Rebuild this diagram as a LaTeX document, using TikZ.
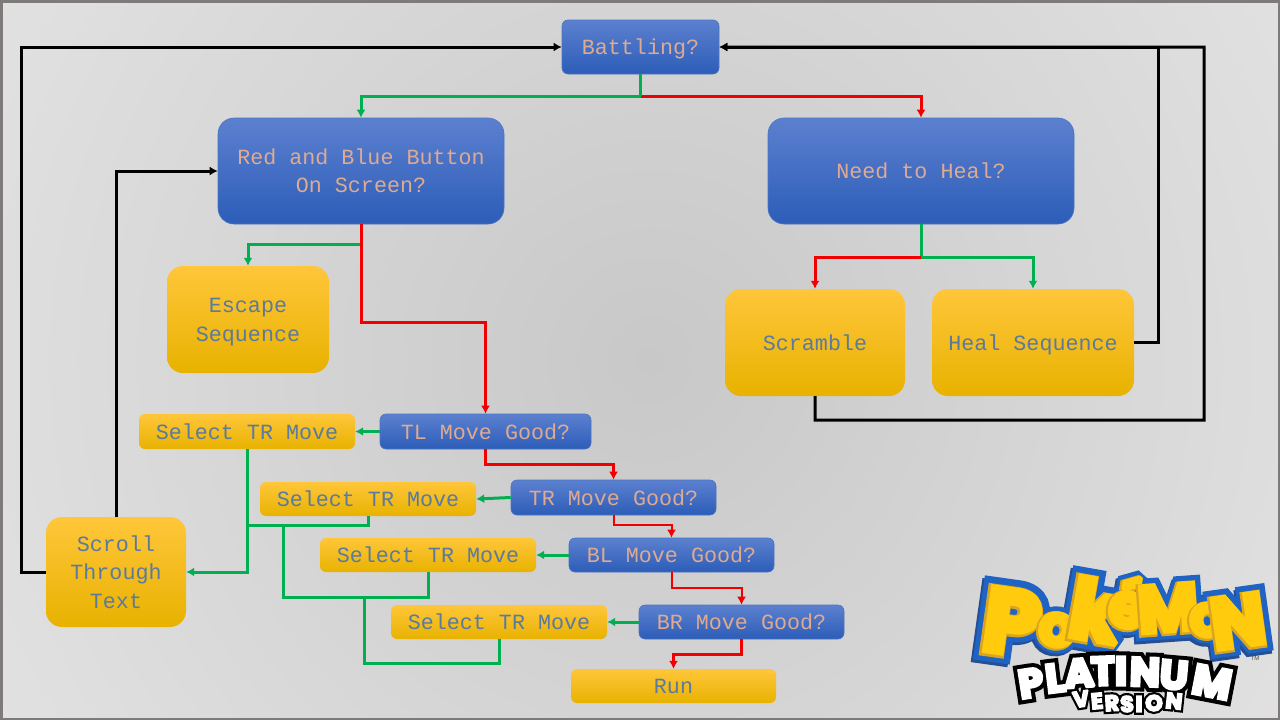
\documentclass[tikz,border=0pt]{standalone}
\usepackage{fontspec}
\setmainfont{Liberation Mono}
\newfontfamily\logoOut[FakeBold=24]{Poppins Bold}
\newfontfamily\logoMid[FakeBold=11]{Poppins Bold}
\newfontfamily\logoIn[FakeBold=7]{Poppins Bold}
\newfontfamily\platOut[FakeBold=28]{Poppins Bold}
\newfontfamily\platIn[FakeBold=8]{Poppins Bold}
\newfontfamily\tmfont{Liberation Sans}
\usetikzlibrary{arrows.meta}
\definecolor{bluetop}{HTML}{5C80CF}
\definecolor{bluebot}{HTML}{2C5DB8}
\definecolor{blueln}{HTML}{4A74C4}
\definecolor{yeltop}{HTML}{FFC63A}
\definecolor{yelmid}{HTML}{FFC000}
\definecolor{yelbot}{HTML}{E8B200}
\definecolor{saltxt}{HTML}{DEAA90}
\definecolor{slatetxt}{HTML}{5A7A9E}
\definecolor{gogreen}{HTML}{00B050}
\definecolor{nored}{HTML}{F00000}
\definecolor{pkblue}{HTML}{1F63C4}
\definecolor{pkdark}{HTML}{234F96}
\definecolor{pkyel}{HTML}{FFCB0C}
\definecolor{pkgold}{HTML}{D9A520}
\definecolor{frame}{HTML}{7F7A7A}
\definecolor{bga}{HTML}{C8C8C8}
\definecolor{bgb}{HTML}{E0E0E0}
\definecolor{bgc}{HTML}{EAEAEA}
\definecolor{bgd}{HTML}{F2F2F2}
\pgfdeclareradialshading{bgshade}{\pgfpoint{0bp}{0bp}}{%
  color(0bp)=(bga); color(22bp)=(bgb); color(40bp)=(bgc); color(50bp)=(bgd)}
\newcommand{\st}{\vphantom{Ag}\rule{0pt}{19.5pt}}
\tikzset{
  x=1pt,y=-1pt,
  box/.style={rectangle,inner sep=0pt,align=center,font=\fontsize{21.7}{28.5}\selectfont},
  bluebox/.style={box,shading=axis,top color=bluetop,bottom color=bluebot,shading angle=0,draw=blueln,line width=0.6pt,text=saltxt},
  yelbox/.style={box,shading=axis,top color=yeltop,middle color=yelmid,bottom color=yelbot,shading angle=0,text=slatetxt},
  big/.style={rounded corners=16pt},
  small/.style={rounded corners=6pt},
  link/.style={line width=3pt,-{Latex[length=8pt,width=9pt]}},
  plain/.style={line width=3pt},
  blk/.style={link,black},
  grn/.style={link,gogreen},
  rd/.style={link,nored},
  rdthin/.style={line width=2pt,nored,-{Latex[length=8pt,width=9pt]}},
}
\newcommand{\pkshadow}[4]{\node[pkdark,font=\logoOut\fontsize{#4}{#4}\selectfont,rotate=#3] at (#1) [xshift=-2pt,yshift=-3pt] {#2};}
\newcommand{\pk}[4]{\node[pkblue,font=\logoOut\fontsize{#4}{#4}\selectfont,rotate=#3] at (#1) {#2};}
\newcommand{\pkb}[4]{%
  \node[pkgold,font=\logoMid\fontsize{#4}{#4}\selectfont,rotate=#3] at (#1) [xshift=-1pt,yshift=-1pt] {#2};
  \node[pkyel,font=\logoIn\fontsize{#4}{#4}\selectfont,rotate=#3] at (#1) {#2};}
\newcommand{\pkall}[1]{%
  #1{1012,622}{P}{-8}{90}
  #1{1057,630}{o}{-8}{58}
  #1{1096,610}{k}{-10}{82}
  #1{1129,602}{é}{-10}{62}
  #1{1168,608}{M}{4}{66}
  #1{1208,620}{o}{4}{58}
  #1{1238,621}{N}{8}{72}}
\newcommand{\plo}[4]{\node[black,font=\platOut\fontsize{#4}{#4}\selectfont,rotate=#3] at (#1) {#2};}
\newcommand{\pli}[4]{\node[white,font=\platIn\fontsize{#4}{#4}\selectfont,rotate=#3] at (#1) {#2};}
\newcommand{\platall}[1]{%
  #1{1031,683}{P}{9}{40}
  #1{1055,678}{L}{7}{40}
  #1{1079,673}{A}{4}{40}
  #1{1103,671}{T}{2}{40}
  #1{1121,671}{I}{0}{40}
  #1{1145,672}{N}{-2}{40}
  #1{1174,675}{U}{-5}{40}
  #1{1212,682}{M}{-11}{42}
  #1{1081,699}{V}{8}{22}
  #1{1097,701}{E}{5}{22}
  #1{1112,703}{R}{3}{22}
  #1{1127,704}{S}{1}{22}
  #1{1139,704}{I}{0}{22}
  #1{1154,703}{O}{-2}{22}
  #1{1174,701}{N}{-6}{22}}
\begin{document}
\begin{tikzpicture}
\useasboundingbox (0,0) rectangle (1280,720);
\begin{scope}
\clip (0,0) rectangle (1280,720);
\shade[shading=bgshade] (-150,-440) rectangle (1450,1160);
\end{scope}
\draw[line width=5pt,frame] (0,0) rectangle (1280,720);

\node[bluebox,small,minimum width=157pt,minimum height=54pt] (bat) at (640.5,47) {\st Battling?};
\node[bluebox,big,minimum width=286pt,minimum height=106pt] (rb) at (361,171) {\st Red and Blue Button\\\st On Screen?};
\node[bluebox,big,minimum width=306pt,minimum height=106pt] (heal) at (921,171) {\st Need to Heal?};
\node[yelbox,big,minimum width=162pt,minimum height=107pt] (esc) at (248,319.5) {\st Escape\\\st Sequence};
\node[yelbox,big,minimum width=180pt,minimum height=107pt] (scr) at (815,342.5) {\st Scramble};
\node[yelbox,big,minimum width=202pt,minimum height=107pt] (hs) at (1033,342.5) {\st Heal Sequence};
\node[yelbox,big,minimum width=140pt,minimum height=110pt] (txt) at (116,572) {\st Scroll\\\st Through\\\st Text};
\node[yelbox,small,minimum width=216pt,minimum height=35pt] (s1) at (247,431.5) {\st Select TR Move};
\node[bluebox,small,minimum width=211pt,minimum height=35pt] (tl) at (485.5,431.5) {\st TL Move Good?};
\node[yelbox,small,minimum width=216pt,minimum height=34pt] (s2) at (368,499) {\st Select TR Move};
\node[bluebox,small,minimum width=205pt,minimum height=35pt] (tr) at (613.5,497.5) {\st TR Move Good?};
\node[yelbox,small,minimum width=216pt,minimum height=34pt] (s3) at (428,555) {\st Select TR Move};
\node[bluebox,small,minimum width=205pt,minimum height=34pt] (bl) at (671.5,555) {\st BL Move Good?};
\node[yelbox,small,minimum width=216pt,minimum height=34pt] (s4) at (499,622) {\st Select TR Move};
\node[bluebox,small,minimum width=205pt,minimum height=34pt] (br) at (741.5,622) {\st BR Move Good?};
\node[yelbox,small,minimum width=205pt,minimum height=34pt] (run) at (673.5,686) {\st Run};

\draw[grn] (bat.south) -- ++(0,22) -| (rb.north);
\draw[rd] (bat.south) ++(0,22) -| (heal.north);
\draw[plain,gogreen] (bat.south) -- ++(0,22);
\draw[grn] (rb.south) -- ++(0,20) -| (esc.north);
\draw[rd] (rb.south) -- ++(0,98) -| (tl.north);
\draw[grn] (heal.south) -- ++(0,33) -| (hs.north);
\draw[rd] (heal.south) ++(0,33) -| (scr.north);
\draw[blk] (txt.west) -- ++(-24,0) |- (bat.west);
\draw[blk] (txt.north) |- (rb.west);
\draw[blk] (hs.east) -- ++(24,0) |- (bat.east);
\draw[blk] (scr.south) -- ++(0,24) -| ++(389,-373) -- (bat.east);
\draw[grn] (tl.west) -- (s1.east);
\draw[grn] (tr.west) -- (s2.east);
\draw[grn] (bl.west) -- (s3.east);
\draw[grn] (br.west) -- (s4.east);
\draw[rd] (tl.south) -- ++(0,15) -| (tr.north);
\draw[rdthin] (tr.south) -- ++(0,10) -| (bl.north);
\draw[rdthin] (bl.south) -- ++(0,16) -| (br.north);
\draw[rd] (br.south) -- ++(0,15) -| (run.north);
\draw[grn] (s1.south) |- (txt.east);
\coordinate (j2) at (s1.south |- 0,525);
\coordinate (j3) at (283,525);
\coordinate (j4) at (364,597);
\draw[plain,gogreen] (s2.south) |- (j2);
\draw[plain,gogreen,line join=miter] (s3.south) -- ++(0,25) -| (j3);
\draw[plain,gogreen,line join=miter] (s4.south) -- ++(0,24) -| (j4);

% logo
\begin{scope}[line join=miter,miter limit=1.5]
\pkall{\pkshadow}
\pkall{\pk}
\pkall{\pkb}
\node[font=\tmfont\fontsize{6}{6}\selectfont,black!70] (tm) at (1255,658) {TM};
\platall{\plo}
\platall{\pli}
\end{scope}
\end{tikzpicture}
\end{document}
